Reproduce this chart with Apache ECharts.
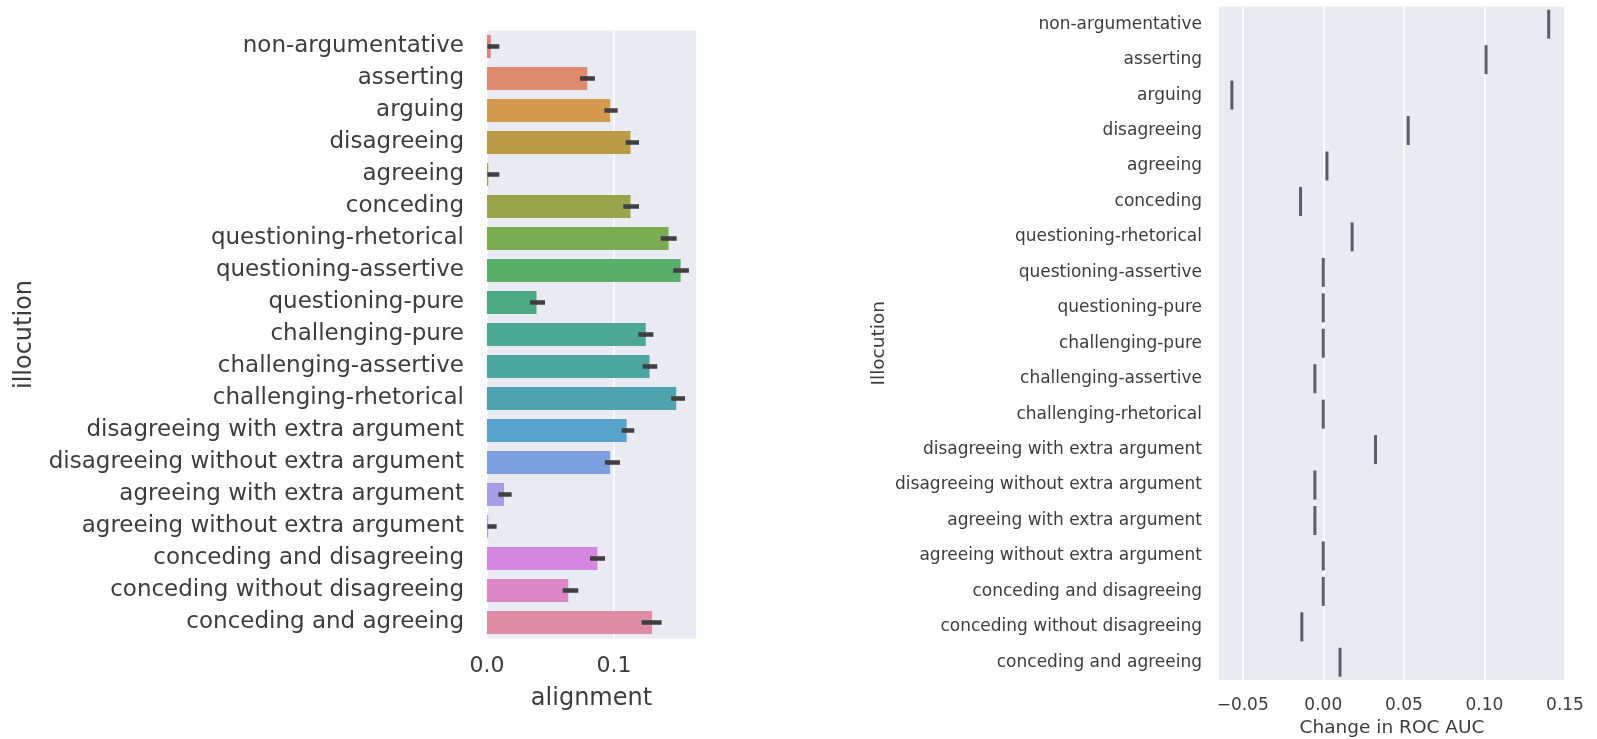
<!DOCTYPE html>
<html>
<head>
<meta charset="utf-8">
<script src="https://cdn.jsdelivr.net/npm/echarts@6/dist/echarts.min.js"></script>
<style>
  html, body { margin: 0; padding: 0; background: #fff; }
  #main { width: 1597px; height: 739px; }
</style>
</head>
<body>
<div id="main"></div>
<script>
// illocution categories, top to bottom
var categories = [
  'non-argumentative', 'asserting', 'arguing', 'disagreeing', 'agreeing',
  'conceding', 'questioning-rhetorical', 'questioning-assertive',
  'questioning-pure', 'challenging-pure', 'challenging-assertive',
  'challenging-rhetorical', 'disagreeing with extra argument',
  'disagreeing without extra argument', 'agreeing with extra argument',
  'agreeing without extra argument', 'conceding and disagreeing',
  'conceding without disagreeing', 'conceding and agreeing'
];

// left panel: mean alignment and its confidence interval
var alignment = [0.003, 0.079, 0.097, 0.113, 0.001, 0.113, 0.143, 0.1525, 0.039, 0.125,
                 0.128, 0.149, 0.110, 0.097, 0.0134, 0.001, 0.087, 0.064, 0.130];
var ciLow  = [0.0003, 0.0732, 0.0924, 0.1092, 0.0003, 0.1073, 0.1368, 0.1467, 0.0339, 0.1192,
              0.1226, 0.1451, 0.1060, 0.0929, 0.0089, 0.0003, 0.0811, 0.0596, 0.1218];
var ciHigh = [0.0097, 0.0850, 0.1029, 0.1197, 0.0097, 0.1197, 0.1494, 0.1590, 0.0457, 0.1310,
              0.1341, 0.1559, 0.1160, 0.1047, 0.0194, 0.0076, 0.0929, 0.0719, 0.1375];

// right panel: change in ROC AUC
var rocChange = [0.1399, 0.1010, -0.0567, 0.0527, 0.0023, -0.0141, 0.0179, 0.0, 0.0, 0.0,
                 -0.0052, 0.0, 0.0324, -0.0052, -0.0052, 0.0, 0.0, -0.0133, 0.0104];

var alignTicks = [0, 0.1];
var rocTicks = [-0.05, 0, 0.05, 0.10, 0.15];

var barColors = [
  '#e47f86', '#de8b70', '#d39a4e', '#b99c45', '#a6a046', '#9aa44a', '#7bac52',
  '#5aaf6a', '#4caa82', '#4aa894', '#4aa69f', '#4fa3ae', '#58a3cc', '#7c9fe0',
  '#a69ee8', '#c09ae6', '#d488e2', '#dc87c7', '#df8ca6'
];

var font = 'DejaVu Sans';
var textColor = '#3c3c3c';
var bg = '#eaeaf2';

var dom = document.getElementById('main');
var myChart = echarts.init(dom);

var option = {
  animation: false,
  textStyle: { fontFamily: font, color: textColor },
  grid: [
    { left: 487, width: 209, top: 30.5, height: 608, show: true, backgroundColor: bg, borderWidth: 0,
      outerBoundsMode: 'none', containLabel: false },
    { left: 1219, width: 346, top: 6.5, height: 673.5, show: true, backgroundColor: bg, borderWidth: 0,
      outerBoundsMode: 'none', containLabel: false }
  ],
  xAxis: [
    {
      type: 'value', gridIndex: 0, min: 0, max: 0.1646,
      name: 'alignment', nameLocation: 'middle', nameGap: 48,
      nameTextStyle: { fontSize: 24, color: textColor, fontFamily: font },
      axisLine: { show: false },
      axisTick: { show: false, customValues: alignTicks },
      axisLabel: {
        customValues: alignTicks, margin: 17, fontSize: 22, color: textColor, fontFamily: font,
        formatter: function (v) { return v.toFixed(1); }
      },
      splitLine: { show: true, lineStyle: { color: '#ffffff', width: 1.5 } }
    },
    {
      type: 'value', gridIndex: 1, min: -0.0647, max: 0.15,
      name: 'Change in ROC AUC', nameLocation: 'middle', nameGap: 39,
      nameTextStyle: { fontSize: 18.5, color: textColor, fontFamily: font },
      axisLine: { show: false },
      axisTick: { show: false, customValues: rocTicks },
      axisLabel: {
        customValues: rocTicks, margin: 17, fontSize: 17, color: textColor, fontFamily: font,
        formatter: function (v) { return (v < 0 ? '\u22120' : '0') + Math.abs(v).toFixed(2).slice(1); }
      },
      splitLine: { show: true, lineStyle: { color: '#ffffff', width: 1.5 } }
    }
  ],
  yAxis: [
    {
      type: 'category', gridIndex: 0, data: categories, inverse: true,
      name: 'illocution', nameLocation: 'middle', nameGap: 450,
      nameTextStyle: { fontSize: 24, color: textColor, fontFamily: font },
      axisLine: { show: false }, axisTick: { show: false },
      axisLabel: { margin: 23, fontSize: 23, color: textColor, fontFamily: font },
      splitLine: { show: false }
    },
    {
      type: 'category', gridIndex: 1, data: categories, inverse: true,
      name: 'Illocution', nameLocation: 'middle', nameGap: 330,
      nameTextStyle: { fontSize: 18.5, color: textColor, fontFamily: font },
      axisLine: { show: false }, axisTick: { show: false },
      axisLabel: { margin: 17, fontSize: 17, color: textColor, fontFamily: font },
      splitLine: { show: false }
    }
  ],
  series: [
    {
      type: 'bar', xAxisIndex: 0, yAxisIndex: 0,
      barCategoryGap: '28%',
      data: alignment.map(function (v, i) {
        return { value: v, itemStyle: { color: barColors[i] } };
      })
    },
    {
      // confidence interval lines
      type: 'custom', xAxisIndex: 0, yAxisIndex: 0, z: 5,
      data: categories.map(function (c, i) { return [ciLow[i], ciHigh[i], i]; }),
      renderItem: function (params, api) {
        var a = api.coord([api.value(0), api.value(2)]);
        var b = api.coord([api.value(1), api.value(2)]);
        return {
          type: 'line',
          shape: { x1: a[0], y1: a[1], x2: b[0], y2: b[1] },
          style: { stroke: '#3f3f3f', lineWidth: 4.5 }
        };
      }
    },
    {
      type: 'scatter', xAxisIndex: 1, yAxisIndex: 1,
      symbol: 'rect', symbolSize: [3, 29],
      itemStyle: { color: '#3a3a44' },
      data: rocChange.map(function (v, i) { return [v, categories[i]]; })
    }
  ]
};

if (option && typeof option === 'object') {
  myChart.setOption(option, true);
}
</script>
</body>
</html>
